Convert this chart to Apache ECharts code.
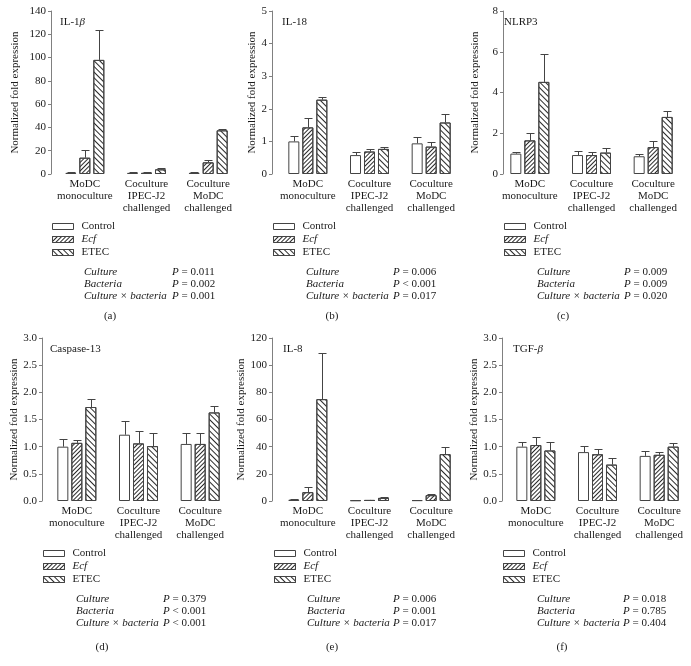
<!DOCTYPE html>
<html><head><meta charset="utf-8">
<script src="https://cdn.jsdelivr.net/npm/echarts@6/dist/echarts.min.js"></script>
<style>html,body{margin:0;padding:0;background:#fff}#c{width:691px;height:666px}</style>
</head><body><div id="c"></div>
<script>
// ---------- data ----------
const categories = ['MoDC\nmonoculture', 'Coculture\nIPEC-J2\nchallenged', 'Coculture\nMoDC\nchallenged'];
const treatments = ['Control', 'Ecf', 'ETEC'];
const panelTitles = ['IL-1{b|β}', 'IL-18', 'NLRP3', 'Caspase-13', 'IL-8', 'TGF-{b|β}'];
const panelLetters = ['(a)', '(b)', '(c)', '(d)', '(e)', '(f)'];
const yMax = [140, 5, 8, 3, 120, 3];
const yStep = [20, 1, 2, 0.5, 20, 0.5];
const yDecimals = [0, 0, 0, 1, 0, 1];
// rows: Control, Ecf, ETEC; columns: categories
const il1bMean = [[1, 1, 1], [14, 1, 10], [98, 4, 37.5]];
const il1bErr  = [[0.5, 0.4, 0.3], [6.5, 0.4, 2.2], [26, 0.8, 1]];
const il18Mean = [[1.0, 0.58, 0.94], [1.43, 0.69, 0.84], [2.28, 0.77, 1.58]];
const il18Err  = [[0.18, 0.09, 0.21], [0.30, 0.07, 0.13], [0.09, 0.07, 0.27]];
const nlrp3Mean = [[1.0, 0.93, 0.87], [1.65, 0.93, 1.32], [4.52, 1.05, 2.8]];
const nlrp3Err  = [[0.08, 0.22, 0.11], [0.35, 0.17, 0.28], [1.38, 0.22, 0.27]];
const casp13Mean = [[1.0, 1.22, 1.05], [1.07, 1.06, 1.05], [1.73, 1.01, 1.63]];
const casp13Err  = [[0.15, 0.25, 0.2], [0.06, 0.23, 0.2], [0.14, 0.24, 0.12]];
const il8Mean = [[1, 0.5, 0.6], [6.5, 0.8, 4.3], [75, 2.3, 34.5]];
const il8Err  = [[0.5, 0.3, 0.3], [3.5, 0.3, 0.7], [34, 0.7, 5.5]];
const tgfbMean = [[1.0, 0.9, 0.83], [1.03, 0.86, 0.85], [0.93, 0.67, 1.0]];
const tgfbErr  = [[0.09, 0.12, 0.09], [0.14, 0.10, 0.05], [0.16, 0.12, 0.06]];
const statLabels = ['Culture', 'Bacteria', 'Culture × bacteria'];
const pValues = [
  ['= 0.011', '= 0.002', '= 0.001'],
  ['= 0.006', '< 0.001', '= 0.017'],
  ['= 0.009', '= 0.009', '= 0.020'],
  ['= 0.379', '< 0.001', '< 0.001'],
  ['= 0.006', '= 0.001', '= 0.017'],
  ['= 0.018', '= 0.785', '= 0.404']
];
const means = [il1bMean, il18Mean, nlrp3Mean, casp13Mean, il8Mean, tgfbMean];
const errs = [il1bErr, il18Err, nlrp3Err, casp13Err, il8Err, tgfbErr];

// ---------- layout ----------
const FF = '"Liberation Serif", "Times New Roman", serif';
const TXT = '#1a1a1a';
const AX = '#808080';
const BAR_W = 11, BAR_STEP = 14;
const L = [
  {gl: 54,  off: 3,  top: 11,  ng: 30, title: [60, 22],   leg: [52, 221],  sx: 84,  px: 172, sy: [272, 284, 296], lab: [110, 316]},
  {gl: 277, off: 5,  top: 11,  ng: 14, title: [282, 22],  leg: [273, 221], sx: 306, px: 393, sy: [272, 284, 296], lab: [332, 316]},
  {gl: 499, off: -4, top: 11,  ng: 22, title: [504, 22],  leg: [504, 221], sx: 537, px: 624, sy: [272, 284, 296], lab: [563, 316]},
  {gl: 46,  off: 4,  top: 338, ng: 21, title: [50, 349],  leg: [43, 548],  sx: 76,  px: 163, sy: [599, 611, 623], lab: [102, 647]},
  {gl: 277, off: 5,  top: 338, ng: 23, title: [283, 349], leg: [274, 548], sx: 307, px: 393, sy: [599, 611, 623], lab: [332, 647]},
  {gl: 505, off: 3,  top: 338, ng: 21, title: [513, 349], leg: [503, 548], sx: 537, px: 623, sy: [599, 611, 623], lab: [562, 647]}
];
const decals = [
  null,
  {symbol: 'rect', symbolSize: 1, color: '#2a2a2a', dashArrayX: [1, 0], dashArrayY: [1, 2], rotation: -Math.PI / 4},
  {symbol: 'rect', symbolSize: 1, color: '#2a2a2a', dashArrayX: [1, 0], dashArrayY: [1, 2.3], rotation: Math.PI / 4}
];

const grid = [], xAxis = [], yAxis = [], series = [], legend = [], graphic = [];
L.forEach((p, i) => {
  grid.push({left: p.gl, top: p.top, width: 185, height: 163});
  xAxis.push({
    type: 'category', gridIndex: i, data: categories,
    axisLine: {show: false}, axisTick: {show: false},
    axisLabel: {color: TXT, fontFamily: FF, fontSize: 11, lineHeight: 12, margin: 4, interval: 0}
  });
  yAxis.push({
    type: 'value', gridIndex: i, min: 0, max: yMax[i], interval: yStep[i], offset: p.off,
    name: 'Normalized fold expression', nameLocation: 'middle', nameGap: p.ng,
    nameTextStyle: {color: TXT, fontFamily: FF, fontSize: 11},
    axisLine: {show: true, lineStyle: {color: AX, width: 1}},
    axisTick: {show: true, length: 3, lineStyle: {color: AX}},
    splitLine: {show: false},
    axisLabel: {color: TXT, fontFamily: FF, fontSize: 11, margin: 5,
      formatter: v => v.toFixed(yDecimals[i])}
  });
  const errData = [];
  treatments.forEach((t, k) => {
    const s = {
      type: 'bar', name: t, xAxisIndex: i, yAxisIndex: i, data: means[i][k],
      barWidth: BAR_W, barGap: '27.27%', animation: false,
      itemStyle: {color: '#fff', borderColor: '#444', borderWidth: 1},
      emphasis: {disabled: true}
    };
    if (decals[k]) s.itemStyle.decal = decals[k];
    series.push(s);
    means[i][k].forEach((m, c) => errData.push([c, m, m + errs[i][k][c], k]));
  });
  series.push({
    type: 'custom', xAxisIndex: i, yAxisIndex: i, data: errData, animation: false,
    encode: {x: 0, y: 2}, silent: true, z: 5,
    renderItem: (params, api) => {
      const c = api.value(0), m = api.value(1), t = api.value(2), k = api.value(3);
      const p0 = api.coord([c, m]), p1 = api.coord([c, t]);
      const x = Math.round(p0[0] + (k - 1) * BAR_STEP) + 0.5;
      const y1 = Math.round(p1[1]) + 0.5;
      const st = {stroke: '#444', lineWidth: 1};
      return {type: 'group', children: [
        {type: 'line', shape: {x1: x, y1: p0[1], x2: x, y2: y1}, style: st},
        {type: 'line', shape: {x1: x - 4, y1: y1, x2: x + 4, y2: y1}, style: st}
      ]};
    }
  });
  legend.push({
    left: p.leg[0], top: p.leg[1], orient: 'vertical', padding: 0, itemGap: 2,
    itemWidth: 21, itemHeight: 6, icon: 'rect', selectedMode: false,
    data: treatments,
    itemStyle: {borderColor: '#444', borderWidth: 1},
    formatter: n => n === 'Ecf' ? '{i|Ecf}' : n,
    textStyle: {color: TXT, fontFamily: FF, fontSize: 11, padding: [0, 0, 0, 3],
      rich: {i: {fontStyle: 'italic', fontFamily: FF, fontSize: 11, color: TXT}}}
  });
  graphic.push({type: 'text', x: p.title[0], y: p.title[1], silent: true,
    style: {text: panelTitles[i], fill: TXT, fontFamily: FF, fontSize: 11, verticalAlign: 'middle',
      rich: {b: {fontStyle: 'italic', fontFamily: FF, fontSize: 11, fill: TXT}}}});
  statLabels.forEach((s, r) => {
    graphic.push({type: 'text', x: p.sx, y: p.sy[r], silent: true,
      style: {text: s, fill: TXT, fontFamily: FF, fontSize: 11, fontStyle: 'italic', verticalAlign: 'middle'}});
    graphic.push({type: 'text', x: p.px, y: p.sy[r], silent: true,
      style: {text: '{i|P} ' + pValues[i][r], fill: TXT, fontFamily: FF, fontSize: 11, verticalAlign: 'middle',
        rich: {i: {fontStyle: 'italic', fontFamily: FF, fontSize: 11, fill: TXT}}}});
  });
  graphic.push({type: 'text', x: p.lab[0], y: p.lab[1], silent: true,
    style: {text: panelLetters[i], fill: TXT, fontFamily: FF, fontSize: 11, align: 'center', verticalAlign: 'middle'}});
});

const chart = echarts.init(document.getElementById('c'), null, {renderer: 'canvas'});
chart.setOption({animation: false, backgroundColor: '#fff', grid, xAxis, yAxis, series, legend, graphic});
</script>
</body></html>
